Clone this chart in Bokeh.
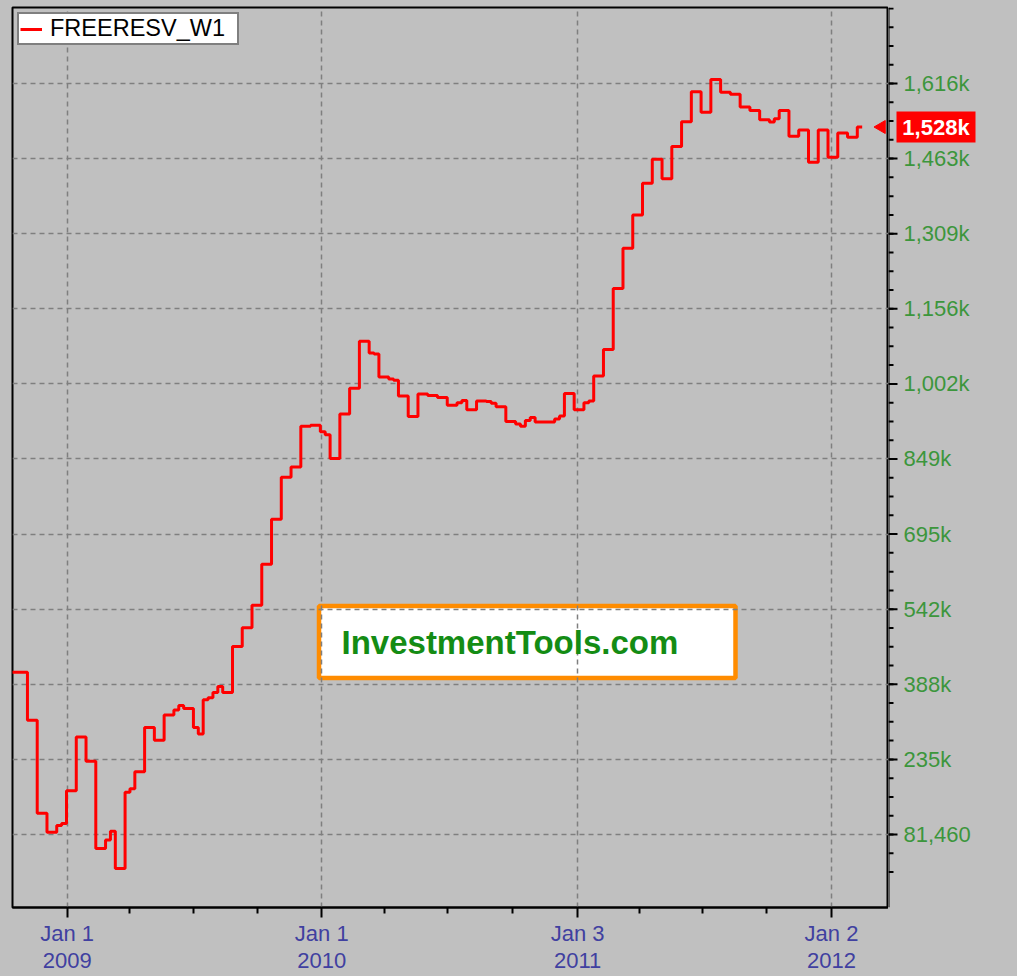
import pandas as pd
from bokeh.plotting import figure
from bokeh.layouts import row
from bokeh.models import (Range1d, FixedTicker, Label, BoxAnnotation, Legend,
                          LegendItem, ColumnDataSource, Span)
from bokeh.core.properties import value
from bokeh.embed import file_html
from bokeh.resources import INLINE

# ---------------- data (values in thousands of $ millions, weekly) ----------------
series_name = "FREERESV_W1"
first_week = "2008-10-08"
values_k = [
    413, 413, 413, 413,
    315, 315, 125, 125, 86, 86, 100, 104,
    171, 171, 281, 281, 231, 231, 53, 53, 70, 88, 12, 12,
    168, 175, 210, 210, 300, 300, 274, 274, 326, 326, 336, 345,
    339, 339, 300, 287, 357, 361, 372, 384, 372, 372, 466, 466,
    504, 504, 550, 550, 634, 634, 726, 726, 812, 812, 833, 833,
    916, 916, 918, 918, 905, 899, 850, 850, 941, 941, 994, 994,
    1090, 1090, 1066, 1064, 1017, 1017, 1013, 1010, 978, 978, 936, 936,
    982, 982, 979, 979, 975, 975, 959, 959, 964, 969, 950, 950,
    968, 968, 967, 963, 956, 956, 926, 926, 921, 916, 928, 934,
    925, 925, 925, 925, 931, 937, 983, 983, 950, 950, 964, 968,
    1019, 1019, 1073, 1073, 1198, 1198, 1280, 1280, 1348, 1348, 1413, 1413,
    1462, 1462, 1422, 1422, 1488, 1488, 1539, 1539, 1600, 1600, 1558, 1558,
    1625, 1625, 1599, 1599, 1595, 1595, 1569, 1569, 1562, 1562, 1543, 1543,
    1538, 1545, 1562, 1562, 1509, 1509, 1522, 1522, 1456, 1456, 1522, 1522,
    1466, 1466, 1516, 1516, 1507, 1507, 1528, 1528,
]
last_label = "1,528k"

y_tick_values = [81.46, 235.01, 388.56, 542.11, 695.66, 849.21,
                 1002.76, 1156.31, 1309.86, 1463.41, 1616.96]
y_tick_labels = ["81,460", "235k", "388k", "542k", "695k", "849k",
                 "1,002k", "1,156k", "1,309k", "1,463k", "1,616k"]

x_tick_dates = ["2009-01-01", "2010-01-01", "2011-01-03", "2012-01-02"]
x_tick_labels = ["Jan 1\n2009", "Jan 1\n2010", "Jan 3\n2011", "Jan 2\n2012"]
x_minor_dates = ["2009-04-01", "2009-07-01", "2009-10-01",
                 "2010-04-01", "2010-07-01", "2010-10-01",
                 "2011-04-01", "2011-07-01", "2011-10-01"]

# ---------------- layout constants ----------------
W, H = 1017, 976
FL, FT, FR, FB = 12, 7, 129, 69           # frame borders (px)
FW, FH = W - FL - FR, H - FT - FB
FONT = "Liberation Sans"
BG = "#c0c0c0"
GREEN = "#3c963c"

def ms(d):
    return pd.Timestamp(d).value // 10**6

x_start = pd.Timestamp("2008-10-14 13:26")
x_end = pd.Timestamp("2012-03-23 17:45")
y_top, y_bot = 1772.35, -67.80
y_range = Range1d(y_bot, y_top)

x0, x1 = ms(x_start), ms(x_end)

def px2x(px):
    return x0 + (px - FL) / FW * (x1 - x0)

def px2y(py):
    return y_top - (py - FT) / FH * (y_top - y_bot)

dates = pd.date_range(first_week, periods=len(values_k), freq="7D")
src = ColumnDataSource(dict(date=dates, v=values_k))
last_value = values_k[-1]

# ======================= main chart =======================
p = figure(width=W - FR, height=H, x_axis_type="datetime", y_axis_location=None,
           x_range=Range1d(x_start, x_end), y_range=y_range,
           output_backend="svg", toolbar_location=None,
           min_border_left=FL, min_border_top=FT, min_border_right=0,
           min_border_bottom=FB,
           background_fill_color=BG, border_fill_color=BG,
           outline_line_color="black", outline_line_width=2)

# watermark box (under the grid)
p.add_layout(BoxAnnotation(left=px2x(318.5), right=px2x(735), top=px2y(605.5),
                           bottom=px2y(677.5), fill_color="white", fill_alpha=1,
                           line_color="#ff8c00", line_alpha=1, line_width=4.5,
                           level="image"))

r = p.step("date", "v", source=src, mode="after", line_color="#ff0000",
           line_width=3)

# last-value pointer
p.scatter(x=[px2x(881)], y=[last_value], marker="triangle", angle=90,
          angle_units="deg", size=13, fill_color="#ff0000", line_color="#ff0000")

xa = p.xaxis[0]
xa.ticker = FixedTicker(ticks=[ms(d) for d in x_tick_dates],
                        minor_ticks=[ms(d) for d in x_minor_dates])
xa.major_label_overrides = {ms(d): lab for d, lab in zip(x_tick_dates, x_tick_labels)}
xa.axis_line_color = "black"
xa.axis_line_width = 2
xa.major_tick_line_color = "black"
xa.major_tick_line_width = 2
xa.minor_tick_line_color = "black"
xa.minor_tick_line_width = 2
xa.major_tick_in = 0
xa.minor_tick_in = 0
xa.major_tick_out = 10
xa.minor_tick_out = 6
xa.major_label_standoff = 3
xa.major_label_text_font = FONT
xa.major_label_text_font_size = "22px"
xa.major_label_text_color = "#4040a0"
xa.major_label_text_line_height = 1.1

p.xgrid[0].ticker = FixedTicker(ticks=[ms(d) for d in x_tick_dates])
p.ygrid[0].ticker = FixedTicker(ticks=y_tick_values)
for g in (p.xgrid[0], p.ygrid[0]):
    g.grid_line_color = "#7f7f7f"
    g.grid_line_dash = "5 4"
    g.grid_line_width = 1.5

legend = Legend(items=[LegendItem(label=series_name, renderers=[r])],
                location="top_left", margin=5, padding=1, spacing=0,
                label_text_font=FONT, label_text_font_size="23.5px",
                label_text_color="black", label_standoff=8,
                label_width=186, label_height=16,
                glyph_width=22, glyph_height=16,
                border_line_color="black", border_line_width=2,
                background_fill_color="white", background_fill_alpha=1)
p.add_layout(legend)

p.add_layout(Label(x=px2x(341), y=px2y(642), text="InvestmentTools.com",
                   text_font=FONT, text_font_style="bold", text_font_size="33px",
                   text_color="#148c14", text_baseline="middle", text_align="left"))

# ======================= right value axis panel =======================
step = (y_tick_values[-1] - y_tick_values[0]) / (len(y_tick_values) - 1)
minor_vals = [y_tick_values[0] + step * i / 4 for i in range(-2, 48)]

q = figure(width=FR, height=H, x_range=Range1d(0, FR), y_range=y_range,
           x_axis_location=None, y_axis_location=None,
           output_backend="svg", toolbar_location=None,
           min_border_left=0, min_border_right=0, min_border_top=FT,
           min_border_bottom=FB, background_fill_color=BG, border_fill_color=BG,
           outline_line_color=None)
q.xgrid.visible = False
q.ygrid.visible = False
q.add_layout(Span(location=0, dimension="height", line_color="black", line_width=2))
q.segment(x0=0, x1=5, y0=minor_vals, y1=minor_vals, line_color="black", line_width=2)
q.segment(x0=0, x1=9, y0=y_tick_values, y1=y_tick_values, line_color="black",
          line_width=2)
q.text(x=15, y=y_tick_values, text=y_tick_labels, text_font=value(FONT),
       text_font_size="22px", text_color=GREEN, text_baseline="middle",
       text_align="left")
q.rect(x=[47.5], y=[last_value], width=79, height=31, height_units="screen",
       fill_color="#ff0000", line_color=None)
q.text(x=[47.5], y=[last_value], text=[last_label], text_font=value(FONT),
       text_font_style="bold", text_font_size="22px", text_color="white",
       text_baseline="middle", text_align="center")

layout = row(p, q, spacing=0, styles={"background-color": BG})
open("out.html", "w").write(file_html(layout, INLINE))
